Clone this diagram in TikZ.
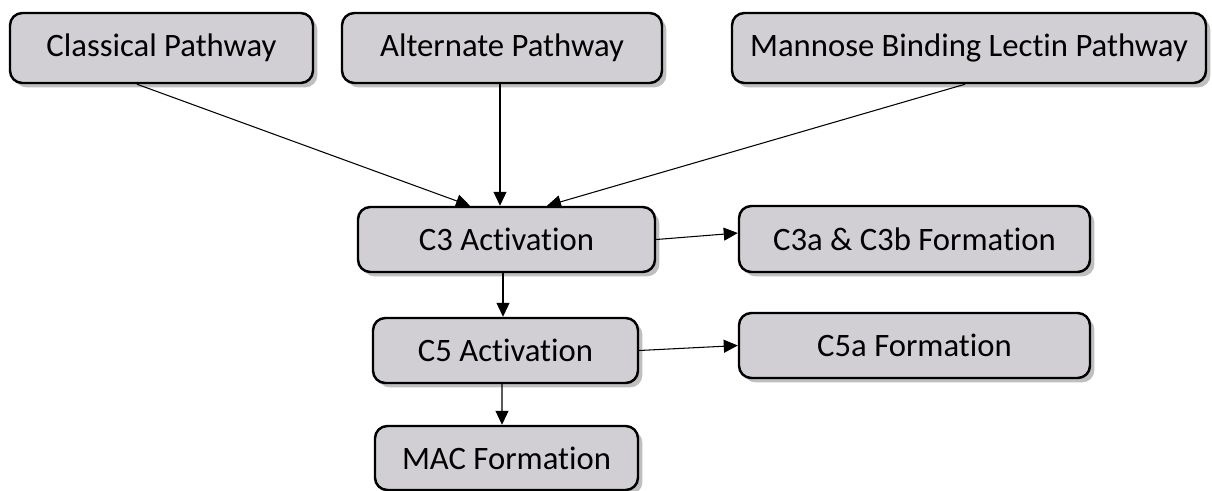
\documentclass[tikz,border=0pt]{standalone}
\usepackage{fontspec}
\setmainfont{Carlito}[Ligatures=NoCommon]
\usepackage{tikz}
\usetikzlibrary{arrows.meta, shadows}

\definecolor{boxgray}{RGB}{209,207,211}

\begin{document}
\begin{tikzpicture}[
    box/.style={draw, line width=1.4pt, rounded corners=7pt, fill=boxgray,
      inner sep=0pt, minimum height=1.4cm, align=center,
      font=\fontsize{18.6}{22}\selectfont,
      drop shadow={shadow xshift=2.5pt, shadow yshift=-2.5pt, fill=black, opacity=0.25}},
    >={Triangle[length=0.28cm, width=0.26cm]},
    flow/.style={->, line width=0.6pt}
  ]
    \useasboundingbox (0,0) rectangle (24.24,-9.8);
    % pathways
    \node[box, minimum width=6.06cm] (classical) at (3.23,-0.96) {Classical Pathway};
    \node[box, minimum width=6.40cm] (alternate) at (10.04,-0.96) {Alternate Pathway};
    \node[box, minimum width=9.48cm] (lectin) at (19.38,-0.96) {Mannose Binding Lectin Pathway};
    % cascade
    \node[box, minimum width=5.94cm, minimum height=1.30cm] (c3) at (10.13,-4.79) {C3 Activation};
    \node[box, minimum width=7.02cm, minimum height=1.32cm] (c3ab) at (18.29,-4.78) {C3a \& C3b Formation};
    \node[box, minimum width=5.30cm, minimum height=1.30cm] (c5) at (10.11,-7.01) {C5 Activation};
    \node[box, minimum width=7.02cm, minimum height=1.30cm] (c5a) at (18.29,-6.91) {C5a Formation};
    \node[box, minimum width=5.26cm, minimum height=1.28cm] (mac) at (10.13,-9.16) {MAC Formation};
    \draw[flow] ([xshift=-0.49cm]classical.south) -- ([xshift=-0.73cm]c3.north);
    \draw[flow] ([xshift=-0.04cm]alternate.south) -- ([xshift=-0.13cm]c3.north);
    \draw[flow] ([xshift=-0.08cm]lectin.south) -- ([xshift=0.81cm]c3.north);
    \draw[flow] (c3.east) -- ([yshift=0.12cm]c3ab.west);
    \draw[flow] ([xshift=-0.07cm]c3.south) -- ([xshift=-0.05cm]c5.north);
    \draw[flow] (c5.east) -- (c5a.west);
    \draw[flow] ([xshift=-0.07cm]c5.south) -- ([xshift=-0.09cm]mac.north);
  \end{tikzpicture}
\end{document}
